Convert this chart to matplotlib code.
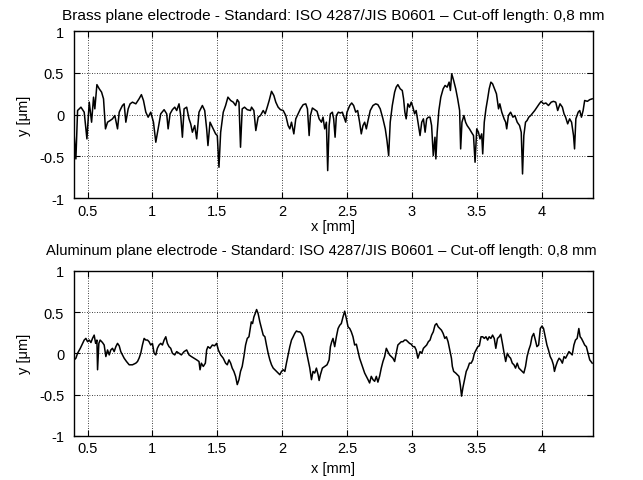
import matplotlib
matplotlib.use("Agg")
import matplotlib.pyplot as plt

plt.rcParams['font.family'] = ['Liberation Sans', 'DejaVu Sans']

title_brass = "Brass plane electrode - Standard: ISO 4287/JIS B0601 \u2013 Cut-off length: 0,8 mm"
title_alu = "Aluminum plane electrode - Standard: ISO 4287/JIS B0601 \u2013 Cut-off length: 0,8 mm"

xticks = [0.5, 1, 1.5, 2, 2.5, 3, 3.5, 4]
xticklabels = ["0.5", "1", "1.5", "2", "2.5", "3", "3.5", "4"]
yticks = [-1, -0.5, 0, 0.5, 1]
yticklabels = ["-1", "-0.5", "0", "0.5", "1"]

# brass profile (x in mm, y in um)
brass_x = [
    0.397, 0.410, 0.423, 0.449, 0.474, 0.495, 0.513, 0.531, 0.546, 0.556,
    0.572, 0.590, 0.608, 0.623, 0.638, 0.654, 0.674, 0.692, 0.710, 0.731,
    0.744, 0.756, 0.769, 0.782, 0.795, 0.813, 0.828, 0.846, 0.872, 0.897,
    0.915, 0.931, 0.949, 0.967, 0.987, 1.008, 1.026, 1.044, 1.064, 1.090,
    1.110, 1.121, 1.136, 1.154, 1.172, 1.187, 1.205, 1.218, 1.231, 1.244,
    1.264, 1.282, 1.295, 1.308, 1.326, 1.341, 1.359, 1.385, 1.403, 1.418,
    1.428, 1.444, 1.469, 1.487, 1.500, 1.513, 1.526, 1.546, 1.564, 1.582,
    1.603, 1.623, 1.641, 1.654, 1.667, 1.679, 1.692, 1.710, 1.731, 1.756,
    1.764, 1.782, 1.797, 1.815, 1.833, 1.854, 1.869, 1.885, 1.900, 1.918,
    1.936, 1.951, 1.969, 1.987, 2.008, 2.028, 2.046, 2.059, 2.072, 2.090,
    2.105, 2.123, 2.141, 2.162, 2.182, 2.195, 2.208, 2.218, 2.233, 2.251,
    2.269, 2.285, 2.303, 2.315, 2.328, 2.341, 2.351, 2.362, 2.372, 2.387,
    2.397, 2.408, 2.418, 2.433, 2.449, 2.464, 2.477, 2.490, 2.500, 2.521,
    2.536, 2.551, 2.567, 2.582, 2.597, 2.610, 2.623, 2.636, 2.649, 2.662,
    2.679, 2.700, 2.721, 2.738, 2.756, 2.777, 2.795, 2.808, 2.821, 2.833,
    2.849, 2.867, 2.879, 2.892, 2.910, 2.926, 2.936, 2.946, 2.956, 2.969,
    2.982, 2.995, 3.008, 3.021, 3.033, 3.063, 3.076, 3.089, 3.102, 3.114,
    3.127, 3.140, 3.152, 3.165, 3.178, 3.185, 3.195, 3.208, 3.223, 3.241,
    3.256, 3.272, 3.287, 3.297, 3.307, 3.322, 3.338, 3.353, 3.368, 3.376,
    3.386, 3.401, 3.414, 3.426, 3.444, 3.459, 3.475, 3.487, 3.500, 3.513,
    3.525, 3.538, 3.546, 3.558, 3.571, 3.584, 3.596, 3.609, 3.622, 3.637,
    3.652, 3.668, 3.678, 3.693, 3.711, 3.723, 3.731, 3.744, 3.761, 3.779,
    3.794, 3.812, 3.830, 3.843, 3.853, 3.863, 3.876, 3.888, 3.901, 3.916,
    3.931, 3.947, 3.964, 3.982, 3.997, 4.015, 4.033, 4.053, 4.074, 4.091,
    4.109, 4.124, 4.142, 4.160, 4.173, 4.185, 4.201, 4.216, 4.231, 4.246,
    4.254, 4.264, 4.282, 4.294, 4.307, 4.320, 4.332, 4.353, 4.371, 4.390,
]
brass_y = [
    -0.25, -0.53, 0.05, 0.09, 0.03, -0.29, 0.15, -0.09, 0.21, 0.07,
    0.36, 0.31, 0.27, 0.19, -0.17, -0.09, -0.07, -0.05, -0.01, -0.17,
    0.03, 0.07, 0.11, 0.13, -0.09, 0.07, 0.13, 0.15, 0.13, 0.19,
    0.24, 0.17, 0.03, -0.03, 0.03, -0.09, -0.33, -0.17, 0.01, 0.06,
    0.01, -0.17, 0.01, 0.06, 0.09, 0.05, 0.13, -0.01, -0.27, 0.07,
    0.09, -0.05, -0.11, -0.21, -0.13, -0.29, 0.03, 0.11, 0.05, -0.17,
    -0.37, -0.09, -0.17, -0.23, -0.25, -0.63, -0.21, 0.03, 0.11, 0.21,
    0.17, 0.15, 0.11, 0.18, 0.15, -0.39, 0.07, 0.09, 0.06, 0.05,
    0.09, 0.05, -0.19, -0.03, -0.01, 0.05, 0.01, 0.09, 0.17, 0.28,
    0.23, 0.15, 0.09, 0.06, 0.05, -0.01, -0.13, -0.17, -0.09, -0.23,
    -0.05, 0.01, 0.07, 0.12, 0.13, 0.07, -0.25, -0.01, 0.08, 0.06,
    0.04, -0.05, -0.09, -0.03, -0.17, -0.09, -0.67, -0.13, 0.01, 0.03,
    -0.05, -0.27, -0.01, 0.03, 0.02, 0.03, -0.03, -0.09, 0.03, 0.11,
    0.14, 0.11, 0.03, 0.05, -0.09, -0.23, -0.13, -0.09, -0.17, -0.07,
    0.05, 0.11, 0.13, 0.12, 0.07, -0.05, -0.17, -0.31, -0.49, -0.09,
    0.11, 0.27, 0.33, 0.36, 0.31, 0.29, 0.19, 0.03, -0.05, 0.13,
    0.09, 0.15, 0.09, 0.01, 0.05, -0.25, -0.09, -0.05, -0.21, -0.05,
    -0.03, -0.03, -0.13, -0.49, -0.27, -0.53, -0.21, 0.05, 0.21, 0.31,
    0.35, 0.33, 0.39, 0.29, 0.49, 0.41, 0.31, 0.19, 0.05, -0.41,
    -0.09, -0.01, -0.09, -0.13, -0.17, -0.21, -0.25, -0.57, -0.17, -0.21,
    -0.29, -0.23, -0.47, -0.09, 0.07, 0.19, 0.31, 0.39, 0.37, 0.31,
    0.25, 0.07, 0.13, 0.03, -0.05, -0.09, -0.17, -0.01, 0.03, -0.03,
    -0.01, -0.09, -0.13, -0.21, -0.71, -0.25, -0.09, -0.07, -0.03, -0.01,
    0.02, 0.05, 0.09, 0.13, 0.16, 0.13, 0.14, 0.11, 0.15, 0.16,
    0.15, 0.05, 0.13, 0.09, 0.01, -0.03, -0.11, -0.05, -0.09, -0.25,
    -0.41, -0.05, 0.03, 0.05, -0.03, 0.05, 0.17, 0.16, 0.18, 0.19,
]

# aluminum profile
alu_x = [
    0.397, 0.410, 0.423, 0.444, 0.462, 0.474, 0.487, 0.500, 0.513, 0.526,
    0.538, 0.551, 0.562, 0.572, 0.577, 0.587, 0.597, 0.615, 0.628, 0.641,
    0.654, 0.667, 0.679, 0.692, 0.705, 0.718, 0.731, 0.744, 0.756, 0.769,
    0.782, 0.800, 0.821, 0.846, 0.872, 0.885, 0.897, 0.910, 0.923, 0.936,
    0.949, 0.962, 0.974, 0.987, 1.000, 1.013, 1.026, 1.038, 1.051, 1.064,
    1.077, 1.090, 1.103, 1.115, 1.128, 1.141, 1.154, 1.172, 1.187, 1.205,
    1.223, 1.244, 1.264, 1.282, 1.300, 1.321, 1.341, 1.359, 1.367, 1.377,
    1.392, 1.408, 1.418, 1.428, 1.444, 1.462, 1.479, 1.495, 1.508, 1.526,
    1.546, 1.564, 1.577, 1.590, 1.603, 1.615, 1.628, 1.641, 1.654, 1.667,
    1.679, 1.692, 1.705, 1.718, 1.731, 1.744, 1.762, 1.772, 1.782, 1.792,
    1.803, 1.815, 1.828, 1.841, 1.854, 1.867, 1.879, 1.892, 1.905, 1.918,
    1.931, 1.944, 1.956, 1.969, 1.982, 1.995, 2.008, 2.021, 2.033, 2.046,
    2.059, 2.072, 2.085, 2.097, 2.110, 2.123, 2.136, 2.149, 2.162, 2.174,
    2.187, 2.200, 2.213, 2.226, 2.238, 2.251, 2.264, 2.277, 2.285, 2.295,
    2.310, 2.328, 2.346, 2.362, 2.372, 2.382, 2.392, 2.405, 2.418, 2.431,
    2.444, 2.456, 2.469, 2.482, 2.495, 2.508, 2.521, 2.533, 2.546, 2.559,
    2.572, 2.585, 2.597, 2.610, 2.623, 2.636, 2.649, 2.662, 2.674, 2.687,
    2.700, 2.713, 2.726, 2.738, 2.751, 2.764, 2.777, 2.790, 2.803, 2.815,
    2.828, 2.841, 2.854, 2.867, 2.879, 2.892, 2.905, 2.918, 2.931, 2.944,
    2.956, 2.969, 2.982, 2.995, 3.008, 3.021, 3.033, 3.046, 3.063, 3.076,
    3.089, 3.102, 3.114, 3.127, 3.140, 3.152, 3.165, 3.178, 3.190, 3.203,
    3.216, 3.228, 3.241, 3.254, 3.266, 3.279, 3.292, 3.305, 3.312, 3.322,
    3.338, 3.350, 3.363, 3.373, 3.383, 3.393, 3.406, 3.419, 3.431, 3.444,
    3.457, 3.470, 3.482, 3.495, 3.508, 3.520, 3.533, 3.546, 3.558, 3.571,
    3.584, 3.596, 3.609, 3.622, 3.635, 3.647, 3.660, 3.673, 3.685, 3.698,
    3.711, 3.723, 3.736, 3.749, 3.761, 3.774, 3.787, 3.799, 3.812, 3.825,
    3.838, 3.850, 3.863, 3.876, 3.888, 3.901, 3.914, 3.926, 3.939, 3.952,
    3.964, 3.977, 3.990, 4.003, 4.015, 4.028, 4.041, 4.053, 4.066, 4.079,
    4.091, 4.099, 4.109, 4.122, 4.135, 4.147, 4.160, 4.173, 4.185, 4.198,
    4.211, 4.223, 4.236, 4.249, 4.261, 4.274, 4.287, 4.297, 4.307, 4.320,
    4.332, 4.345, 4.358, 4.371, 4.390,
]
alu_y = [
    -0.08, -0.06, 0.00, 0.06, 0.12, 0.16, 0.18, 0.14, 0.16, 0.13,
    0.18, 0.22, 0.12, 0.16, -0.20, 0.12, 0.16, 0.13, 0.10, -0.04,
    0.04, -0.02, 0.04, 0.06, 0.02, 0.08, 0.12, 0.09, 0.02, -0.02,
    -0.06, -0.10, -0.14, -0.14, -0.12, -0.10, -0.06, 0.00, 0.10, 0.18,
    0.16, 0.16, 0.14, 0.10, 0.12, 0.00, -0.02, 0.06, 0.10, 0.12,
    0.10, 0.16, 0.20, 0.12, 0.08, 0.06, 0.00, -0.02, 0.02, 0.00,
    -0.02, 0.02, 0.04, -0.02, -0.04, -0.06, -0.08, -0.10, -0.20, -0.12,
    -0.16, -0.12, 0.04, 0.08, 0.06, 0.10, 0.09, 0.12, 0.04, -0.02,
    -0.06, -0.12, -0.14, -0.08, -0.12, -0.18, -0.22, -0.28, -0.38, -0.32,
    -0.22, -0.16, -0.04, 0.10, 0.18, 0.20, 0.38, 0.36, 0.44, 0.48,
    0.53, 0.48, 0.38, 0.30, 0.22, 0.20, 0.10, 0.00, -0.08, -0.14,
    -0.18, -0.20, -0.22, -0.24, -0.26, -0.22, -0.20, -0.22, -0.12, -0.02,
    0.08, 0.16, 0.20, 0.24, 0.27, 0.26, 0.26, 0.24, 0.20, 0.12,
    0.02, -0.08, -0.18, -0.32, -0.22, -0.24, -0.18, -0.26, -0.33, -0.26,
    -0.18, -0.16, -0.14, -0.08, 0.08, 0.14, 0.18, 0.08, 0.20, 0.30,
    0.34, 0.36, 0.44, 0.51, 0.42, 0.32, 0.30, 0.26, 0.20, 0.10,
    0.11, 0.02, -0.06, -0.12, -0.18, -0.24, -0.28, -0.32, -0.36, -0.28,
    -0.32, -0.34, -0.28, -0.35, -0.28, -0.18, -0.10, -0.04, 0.06, 0.02,
    -0.02, -0.04, -0.06, -0.10, 0.00, 0.10, 0.12, 0.14, 0.14, 0.16,
    0.16, 0.14, 0.12, 0.11, 0.08, 0.08, 0.04, -0.06, 0.02, 0.00,
    0.06, 0.08, 0.10, 0.14, 0.16, 0.22, 0.26, 0.34, 0.36, 0.32,
    0.30, 0.28, 0.24, 0.18, 0.20, 0.14, 0.04, -0.06, -0.16, -0.22,
    -0.24, -0.26, -0.28, -0.38, -0.52, -0.42, -0.32, -0.22, -0.18, -0.12,
    -0.12, -0.08, 0.00, 0.04, 0.08, 0.09, 0.20, 0.20, 0.18, 0.20,
    0.16, 0.20, 0.18, 0.22, 0.18, 0.06, 0.18, 0.20, 0.23, 0.12,
    0.00, -0.10, 0.00, -0.04, -0.06, -0.12, -0.14, -0.18, -0.12, -0.18,
    -0.20, -0.22, -0.24, -0.16, -0.04, 0.04, 0.10, 0.20, 0.24, 0.16,
    0.08, 0.10, 0.30, 0.33, 0.30, 0.20, 0.10, 0.04, -0.04, -0.08,
    -0.14, -0.22, -0.16, -0.10, -0.06, -0.08, -0.12, -0.04, -0.06, -0.02,
    0.02, 0.00, -0.02, 0.10, 0.16, 0.18, 0.30, 0.20, 0.18, 0.14,
    0.10, 0.08, 0.00, -0.08, -0.12,
]

fig = plt.figure(figsize=(6.43, 4.81), dpi=100)
ax1 = fig.add_axes([0.115, 0.586, 0.807, 0.347])
ax2 = fig.add_axes([0.115, 0.092, 0.807, 0.343])

# (axes, x, y, title, title size, title pad, title x, xlabel pad)
panels = [(ax1, brass_x, brass_y, title_brass, 11.1, 9, 0.5, 1),
          (ax2, alu_x, alu_y, title_alu, 10.6, 12, 0.476, 4)]

for ax, xs, ys, title, tsize, tpad, tx, xpad in panels:
    ax.plot(xs, ys, color='black', linewidth=1.1)
    ax.set_xlim(0.395, 4.395)
    ax.set_ylim(-1, 1)
    ax.set_xticks(xticks)
    ax.set_xticklabels(xticklabels)
    ax.set_yticks(yticks)
    ax.set_yticklabels(yticklabels)
    ax.grid(True, color='black', linestyle=(0, (1, 2)), linewidth=0.6)
    ax.tick_params(direction='in', top=True, right=True, length=4,
                   labelsize=10.5)
    ax.tick_params(axis='y', pad=7)
    ax.tick_params(axis='x', pad=4)
    for s in ax.spines.values():
        s.set_linewidth(1.0)
    ax.set_xlabel('x [mm]', fontsize=10.5, labelpad=xpad)
    ax.set_ylabel('y [\u03bcm]', fontsize=10.5, labelpad=6)
    ax.set_title(title, fontsize=tsize, pad=tpad, x=tx)

fig.savefig('out.png', dpi=100)
